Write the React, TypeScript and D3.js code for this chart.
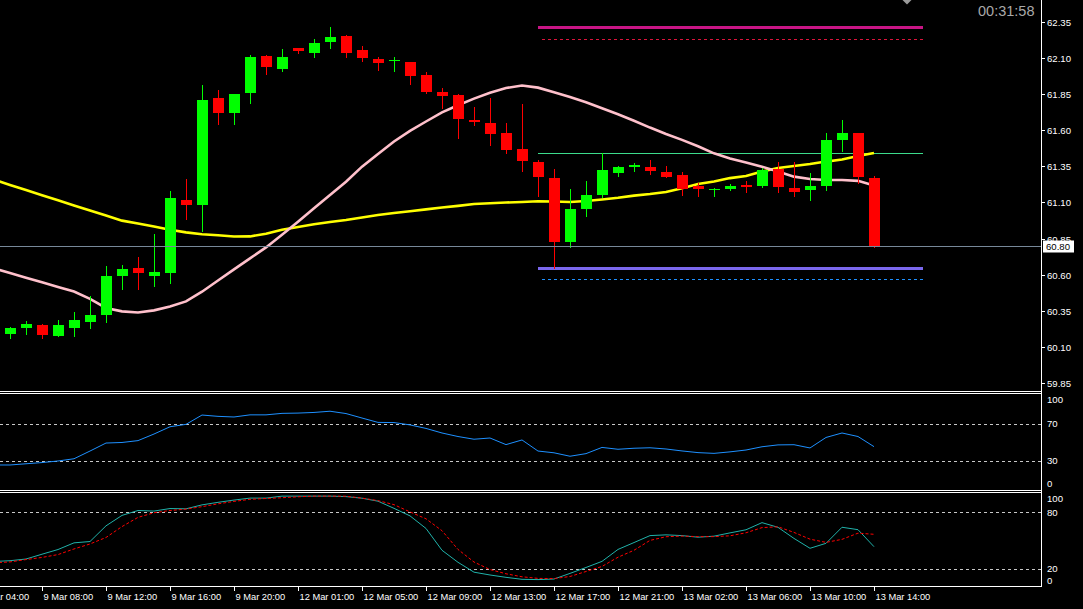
import * as d3 from "d3";

// candles, bars 1..55 (left to right)
const barOpen = [
  60.19, 60.23, 60.25, 60.18, 60.23, 60.275, 60.32, 60.59, 60.65, 60.59,
  60.61, 61.12, 61.08, 61.82, 61.72, 61.855, 62.11, 62.02, 62.17, 62.13,
  62.21, 62.25, 62.15, 62.09, 62.077, 62.07, 61.98, 61.863, 61.84, 61.67,
  61.65, 61.58, 61.47, 61.38, 61.268, 60.826, 61.054, 61.15, 61.303, 61.344,
  61.344, 61.31, 61.289, 61.213, 61.185, 61.19, 61.22, 61.213, 61.33, 61.199,
  61.186, 61.213, 61.531, 61.579, 61.268,
];
const barHigh = [
  60.24, 60.28, 60.26, 60.285, 60.34, 60.45, 60.66, 60.67, 60.72, 60.88,
  61.18, 61.26, 61.91, 61.88, 61.85, 62.12, 62.12, 62.16, 62.17, 62.23,
  62.31, 62.26, 62.18, 62.105, 62.105, 62.07, 62.0, 61.89, 61.85, 61.76,
  61.82, 61.65, 61.78, 61.393, 61.33, 61.19, 61.25, 61.44, 61.351, 61.372,
  61.393, 61.351, 61.31, 61.234, 61.2, 61.23, 61.248, 61.341, 61.379, 61.379,
  61.303, 61.579, 61.67, 61.579, 61.282,
];
const barLow = [
  60.16, 60.19, 60.165, 60.18, 60.18, 60.23, 60.275, 60.5, 60.5, 60.52,
  60.54, 60.985, 60.9, 61.64, 61.64, 61.79, 61.99, 62.01, 62.13, 62.105,
  62.17, 62.105, 62.08, 62.015, 62.008, 61.92, 61.855, 61.75, 61.545, 61.635,
  61.5, 61.44, 61.317, 61.144, 60.646, 60.79, 61.006, 61.137, 61.282, 61.317,
  61.296, 61.275, 61.15, 61.144, 61.144, 61.185, 61.172, 61.206, 61.172, 61.144,
  61.116, 61.186, 61.455, 61.234, 60.795,
];
const barClose = [
  60.23, 60.26, 60.185, 60.25, 60.29, 60.32, 60.59, 60.64, 60.61, 60.62,
  61.13, 61.08, 61.81, 61.72, 61.85, 62.105, 62.035, 62.105, 62.146, 62.2,
  62.24, 62.13, 62.1, 62.06, 62.084, 61.97, 61.865, 61.835, 61.676, 61.655,
  61.57, 61.46, 61.386, 61.275, 60.826, 61.054, 61.15, 61.324, 61.344, 61.358,
  61.317, 61.275, 61.19, 61.19, 61.19, 61.213, 61.206, 61.324, 61.206, 61.172,
  61.213, 61.531, 61.579, 61.275, 60.8,
];

// indicator series, bars 0..55 (bar 0 sits just off the left edge)
const maSlow = [
  61.256, 61.221, 61.186, 61.15, 61.115, 61.079, 61.044, 61.009, 60.974, 60.954,
  60.933, 60.911, 60.893, 60.88, 60.873, 60.864, 60.865, 60.884, 60.911, 60.93,
  60.949, 60.964, 60.978, 60.996, 61.013, 61.027, 61.039, 61.052, 61.065, 61.076,
  61.089, 61.094, 61.099, 61.103, 61.108, 61.106, 61.103, 61.11, 61.12, 61.132,
  61.147, 61.158, 61.172, 61.197, 61.227, 61.244, 61.268, 61.282, 61.313, 61.338,
  61.351, 61.365, 61.382, 61.396, 61.42, 61.441,
];
const maFast = [
  60.644, 60.613, 60.58, 60.548, 60.516, 60.484, 60.433, 60.371, 60.347, 60.339,
  60.354, 60.38, 60.416, 60.483, 60.56, 60.637, 60.713, 60.789, 60.877, 60.967,
  61.059, 61.151, 61.243, 61.347, 61.434, 61.521, 61.594, 61.659, 61.722, 61.771,
  61.817, 61.857, 61.89, 61.908, 61.893, 61.861, 61.828, 61.792, 61.75, 61.709,
  61.664, 61.617, 61.573, 61.532, 61.488, 61.439, 61.403, 61.376, 61.347, 61.313,
  61.278, 61.262, 61.255, 61.255, 61.249, 61.217,
];
const rsiValues = [
  25.5, 25.5, 26.8, 28.1, 29.8, 32.2, 40.5, 49.1, 49.7, 51.7,
  58.8, 66.6, 69.2, 79.2, 77.8, 77.1, 79.4, 79.4, 81.0, 81.3,
  82.0, 83.3, 80.8, 76.0, 71.3, 71.1, 68.6, 64.8, 59.9, 56.1,
  53.2, 54.5, 47.4, 52.4, 40.5, 38.6, 34.9, 37.7, 44.4, 42.4,
  43.5, 44.0, 42.7, 40.6, 38.8, 38.0, 39.6, 41.6, 45.1, 47.1,
  47.3, 43.8, 55.1, 59.9, 56.1, 45.2,
];
const stochMain = [
  27.6, 28.4, 30.2, 35.3, 40.3, 47.4, 48.8, 65.5, 76.6, 81.8,
  81.2, 83.9, 83.6, 87.8, 90.5, 92.9, 95.0, 95.0, 97.1, 97.1,
  97.1, 97.1, 96.6, 94.9, 91.7, 84.1, 76.1, 62.7, 39.5, 26.7,
  16.2, 13.2, 10.7, 8.6, 8.3, 8.9, 14.9, 21.2, 27.7, 40.4,
  47.7, 55.1, 55.9, 55.1, 53.4, 54.5, 58.0, 61.3, 68.9, 63.9,
  52.1, 41.6, 46.9, 64.0, 61.4, 43.3,
];
const stochSignal = [
  26.2, 27.1, 29.6, 31.9, 34.9, 40.9, 46.2, 53.1, 64.7, 74.5,
  79.4, 81.8, 83.3, 85.9, 88.9, 91.5, 93.7, 94.6, 95.4, 96.4,
  97.1, 97.1, 97.0, 95.0, 92.3, 88.0, 80.3, 73.0, 60.3, 40.4,
  27.0, 19.0, 14.5, 11.3, 9.6, 9.4, 11.6, 16.9, 22.3, 32.1,
  39.5, 50.0, 53.9, 54.6, 54.0, 54.0, 54.9, 58.1, 63.6, 64.5,
  58.5, 51.3, 47.9, 51.1, 57.7, 56.5,
];

const priceTicks = [62.35, 62.1, 61.85, 61.6, 61.35, 61.1, 60.85, 60.6, 60.35, 60.1, 59.85];
const timeLabels = [
  "9 Mar 04:00", "9 Mar 08:00", "9 Mar 12:00", "9 Mar 16:00", "9 Mar 20:00",
  "12 Mar 01:00", "12 Mar 05:00", "12 Mar 09:00", "12 Mar 13:00", "12 Mar 17:00",
  "12 Mar 21:00", "13 Mar 02:00", "13 Mar 06:00", "13 Mar 10:00", "13 Mar 14:00",
];
const timeLabelBars = [-1, 3, 7, 11, 15, 19, 23, 27, 31, 35, 39, 43, 47, 51, 55];
const lastPrice = 60.8;
const levelPrices = [62.31, 62.227, 61.44, 60.646, 60.568];
const rsiLevels = [70, 30];
const rsiLabels = [100, 70, 30, 0];
const stochLevels = [80, 20];
const stochLabels = [100, 80, 20, 0];
const timerText = "00:31:58";

const W = 1083;
const H = 609;
const AXIS_X = 1041.5;
const FONT = "'Liberation Sans', Arial, sans-serif";

// style for each level line, same order as levelPrices
const levelStyle = [
  { color: "#C71585", width: 3, dash: "", from: 34 },
  { color: "#DC143C", width: 1, dash: "3,3", from: 34.25 },
  { color: "#3CDC8C", width: 1, dash: "", from: 34 },
  { color: "#7B68EE", width: 3, dash: "", from: 34 },
  { color: "#1E90FF", width: 1, dash: "3,3", from: 34.25 },
];

export default function App() {
  const x = d3.scaleLinear().domain([0, 55]).range([-6, 874]);
  const yPrice = d3.scaleLinear().domain([59.85, 62.35]).range([383.3, 21.5]);
  const yRsi = d3.scaleLinear().domain([0, 100]).range([488.7, 395.7]);
  const yStoch = d3.scaleLinear().domain([0, 100]).range([587.4, 493.4]);

  const priceLine = d3
    .line<number>()
    .x((_, i) => x(i))
    .y((d) => yPrice(d));
  const rsiLine = d3
    .line<number>()
    .x((_, i) => x(i))
    .y((d) => yRsi(d));
  const stochLine = d3
    .line<number>()
    .x((_, i) => x(i))
    .y((d) => yStoch(d));

  const clampLabel = (y: number, top: number, bottom: number) =>
    Math.min(Math.max(y, top + 6), bottom - 6);

  const lastY = Math.round(yPrice(lastPrice)) + 0.5;

  return (
    <div
      style={{
        position: "fixed",
        left: 0,
        top: 0,
        width: W,
        height: H,
        background: "#000",
      }}
    >
      <svg width={W} height={H} style={{ display: "block", fontFamily: FONT }}>
        <defs>
          <clipPath id="mainClip">
            <rect x={0} y={0} width={AXIS_X} height={391} />
          </clipPath>
          <clipPath id="rsiClip">
            <rect x={0} y={394} width={AXIS_X} height={96} />
          </clipPath>
          <clipPath id="stochClip">
            <rect x={0} y={493} width={AXIS_X} height={94} />
          </clipPath>
        </defs>
        <rect x={0} y={0} width={W} height={H} fill="#000" />

        {/* main chart */}
        <g clipPath="url(#mainClip)">
          {levelPrices.map((p, i) => {
            const s = levelStyle[i];
            const y = Math.round(yPrice(p)) + (s.width % 2 ? 0.5 : 0);
            return (
              <line
                key={"lv" + i}
                x1={x(s.from)}
                x2={x(58.06)}
                y1={y}
                y2={y}
                stroke={s.color}
                strokeWidth={s.width}
                strokeDasharray={s.dash || undefined}
                shapeRendering="crispEdges"
              />
            );
          })}

          <path d={priceLine(maSlow) || ""} fill="none" stroke="#FFFF00" strokeWidth={2.6} />
          <path d={priceLine(maFast) || ""} fill="none" stroke="#FFC0CB" strokeWidth={2.6} />

          {barOpen.map((o, i) => {
            const c = barClose[i];
            const bull = c >= o;
            const color = bull ? "#00FF00" : "#FF0000";
            const cx = Math.round(x(i + 1));
            const top = Math.round(yPrice(Math.max(o, c)));
            const bot = Math.round(yPrice(Math.min(o, c)));
            return (
              <g key={"c" + i} shapeRendering="crispEdges">
                <line
                  x1={cx + 0.5}
                  x2={cx + 0.5}
                  y1={Math.round(yPrice(barHigh[i]))}
                  y2={Math.round(yPrice(barLow[i])) + 1}
                  stroke={color}
                  strokeWidth={1}
                />
                <rect
                  x={cx - 5}
                  y={top}
                  width={11}
                  height={Math.max(1, bot - top)}
                  fill={color}
                />
              </g>
            );
          })}

          <line
            x1={0}
            x2={AXIS_X}
            y1={lastY}
            y2={lastY}
            stroke="#778899"
            strokeWidth={1}
            shapeRendering="crispEdges"
          />
        </g>

        {/* shift marker and timer */}
        <polygon points="902.5,0 911.5,0 907,4.5" fill="#9a9a9a" />
        <text x={978} y={15.5} fontSize={14.5} fill="#a9a9a9">
          {timerText}
        </text>

        {/* RSI panel */}
        {rsiLevels.map((v) => (
          <line
            key={"rl" + v}
            x1={0}
            x2={AXIS_X}
            y1={Math.round(yRsi(v)) + 0.5}
            y2={Math.round(yRsi(v)) + 0.5}
            stroke="#c8c8c8"
            strokeDasharray="3,3"
            shapeRendering="crispEdges"
          />
        ))}
        <g clipPath="url(#rsiClip)">
          <path d={rsiLine(rsiValues) || ""} fill="none" stroke="#1E90FF" strokeWidth={1} />
        </g>

        {/* stochastic panel */}
        {stochLevels.map((v) => (
          <line
            key={"sl" + v}
            x1={0}
            x2={AXIS_X}
            y1={Math.round(yStoch(v)) + 0.5}
            y2={Math.round(yStoch(v)) + 0.5}
            stroke="#c8c8c8"
            strokeDasharray="3,3"
            shapeRendering="crispEdges"
          />
        ))}
        <g clipPath="url(#stochClip)">
          <path d={stochLine(stochMain) || ""} fill="none" stroke="#20B2AA" strokeWidth={1} />
          <path
            d={stochLine(stochSignal) || ""}
            fill="none"
            stroke="#FF0000"
            strokeWidth={1}
            strokeDasharray="3,2"
          />
        </g>

        {/* frames */}
        <g stroke="#ffffff" strokeWidth={1} shapeRendering="crispEdges">
          <line x1={0} x2={AXIS_X} y1={391.5} y2={391.5} />
          <line x1={0} x2={AXIS_X} y1={393.5} y2={393.5} />
          <line x1={0} x2={AXIS_X} y1={490.5} y2={490.5} />
          <line x1={0} x2={AXIS_X} y1={492.5} y2={492.5} />
          <line x1={0} x2={AXIS_X} y1={586.5} y2={586.5} />
          <line x1={AXIS_X} x2={AXIS_X} y1={0} y2={587} />
        </g>

        {/* price axis */}
        {priceTicks.map((p) => {
          const y = Math.round(yPrice(p)) + 0.5;
          return (
            <g key={"pt" + p}>
              <line x1={AXIS_X} x2={AXIS_X + 3} y1={y} y2={y} stroke="#fff" shapeRendering="crispEdges" />
              <text x={1047} y={y} dy="0.35em" fontSize={9.6} fill="#fff">
                {p.toFixed(2)}
              </text>
            </g>
          );
        })}
        <rect x={1043} y={lastY - 6} width={31} height={12} fill="#fff" />
        <text x={1046} y={lastY} dy="0.35em" fontSize={9.6} fill="#000">
          {lastPrice.toFixed(2)}
        </text>

        {/* indicator scales */}
        {rsiLabels.map((v) => {
          const y = clampLabel(yRsi(v), 393.5, 489.5);
          return (
            <text key={"rt" + v} x={1047} y={y} dy="0.35em" fontSize={9.6} fill="#fff">
              {v}
            </text>
          );
        })}
        {stochLabels.map((v) => {
          const y = clampLabel(yStoch(v), 492.5, 586.5);
          return (
            <text key={"st" + v} x={1047} y={y} dy="0.35em" fontSize={9.6} fill="#fff">
              {v}
            </text>
          );
        })}

        {/* time axis */}
        {timeLabels.map((t, i) => {
          const tx = Math.round(x(timeLabelBars[i])) + 0.5;
          return (
            <g key={"tl" + i}>
              <line x1={tx} x2={tx} y1={587} y2={591} stroke="#fff" shapeRendering="crispEdges" />
              <text x={tx + 1} y={600} fontSize={9.3} fill="#fff">
                {t}
              </text>
            </g>
          );
        })}
      </svg>
    </div>
  );
}
